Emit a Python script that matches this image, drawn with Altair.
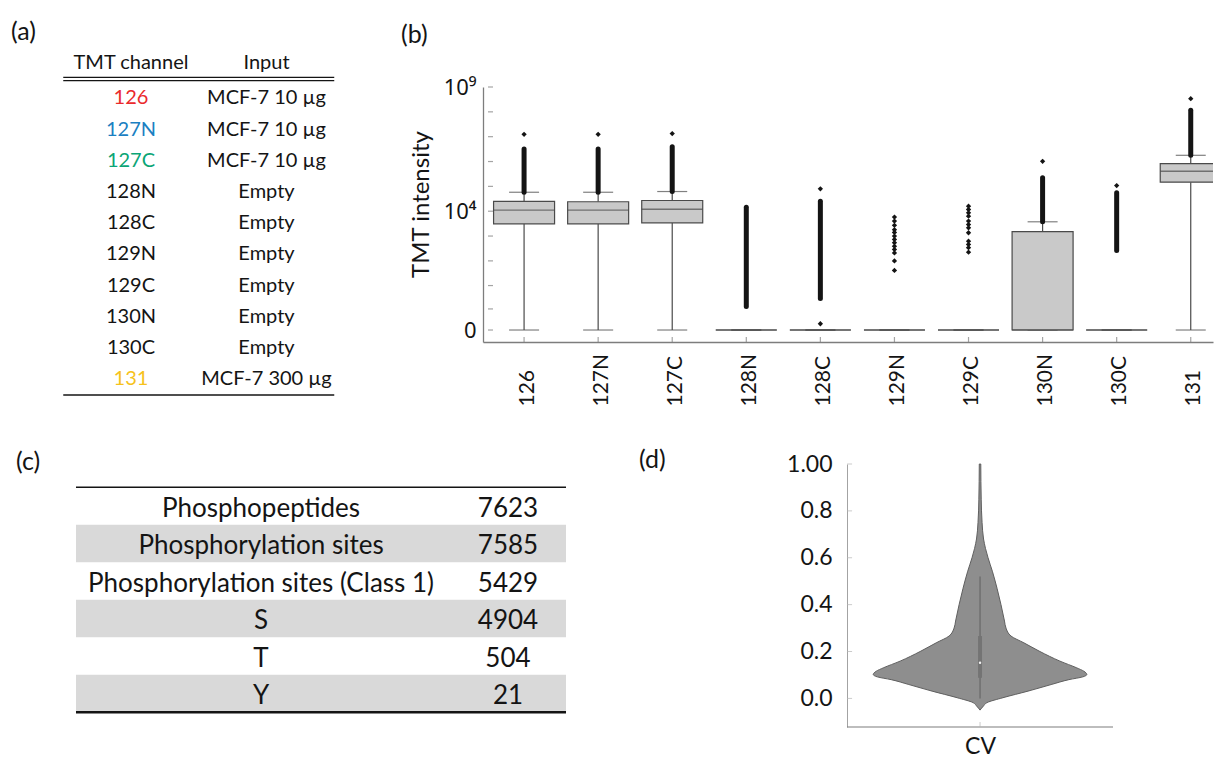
import json
import altair as alt
import pandas as pd

FONT = "Lato"
INK = "#141414"
AXIS_GRAY = "#7d7d7d"
BOX_LINE = "#4a4a4a"
BOX_FILL = "#c9c9c9"

# ---------------- (a) TMT channel table ----------------
tmt_channels = ["126", "127N", "127C", "128N", "128C", "129N", "129C", "130N", "130C", "131"]
tmt_inputs = ["MCF-7 10 µg", "MCF-7 10 µg", "MCF-7 10 µg", "Empty", "Empty", "Empty",
              "Empty", "Empty", "Empty", "MCF-7 300 µg"]
channel_colors = ["#ea2a2c", "#1b80c2", "#0ba576", INK, INK, INK, INK, INK, INK, "#f6c21c"]
a_headers = ["TMT channel", "Input"]

# ---------------- (b) TMT intensity box plot (summary) ----------------
box_q1 = [3100, 3100, 3400, 0, 0, 0, 0, 0, 0, 147000]
box_median = [11000, 11000, 12000, 0, 0, 0, 0, 0, 0, 406000]
box_q3 = [25000, 24000, 27000, 0, 0, 0, 0, 1500, 0, 827000]
whisker_low = [0, 0, 0, 0, 0, 0, 0, 0, 0, 0]
whisker_high = [58000, 58000, 62000, 0, 0, 0, 0, 3750, 0, 1780000]
dense_outlier_low = [58000, 58000, 62000, 1.3, 2.9, None, None, 3750, 260, 1780000]
dense_outlier_high = [3.2e6, 3.2e6, 3.9e6, 14500, 25000, None, None, 220000, 55000, 1.15e8]
outlier_channel = (["126", "127N", "127C", "128C", "128C"] + ["129N"] * 13 + ["129C"] * 12
                   + ["130N", "130C", "131"])
outlier_value = [1.25e7, 1.25e7, 1.33e7, 79500, 0.13,
                 5800, 4000, 2700, 1800, 1400, 1000, 730, 540, 390, 290, 210, 100, 41,
                 15900, 11700, 8600, 6300, 4000, 2900, 2150, 1360, 620, 460, 340, 225,
                 1.02e6, 108000, 3.39e8]
b_tick_values = [0, 1, 10, 1e2, 1e3, 1e4, 1e5, 1e6, 1e7, 1e8, 1e9]
b_label_values = [0, 1e4, 1e9]
b_labels = ["0", "10⁴", "10⁹"]

# ---------------- (c) identification table ----------------
c_items = ["Phosphopeptides", "Phosphorylation sites", "Phosphorylation sites (Class 1)", "S", "T", "Y"]
c_counts = [7623, 7585, 5429, 4904, 504, 21]

# ---------------- (d) CV violin (profile) ----------------
cv_grid = [-0.05, -0.033, -0.018, 0.003, 0.031, 0.06, 0.08, 0.092, 0.102, 0.116, 0.13, 0.159,
           0.20, 0.237, 0.266, 0.30, 0.33, 0.40, 0.47, 0.54, 0.60, 0.64, 0.68, 0.75, 0.85, 1.0]
cv_density = [0.0, 0.031, 0.065, 0.215, 0.449, 0.673, 0.832, 0.963, 1.0, 0.972, 0.907, 0.748,
              0.561, 0.411, 0.290, 0.243, 0.229, 0.196, 0.159, 0.117, 0.075, 0.051, 0.033,
              0.019, 0.011, 0.007]
cv_whisker = [0.0, 0.52]
cv_quartiles = [0.088, 0.266]
cv_median = 0.152
d_tick_values = [0.0, 0.2, 0.4, 0.6, 0.8, 1.0]


def panel_title(text, dx, offset=0, dy=0):
    return alt.TitleParams(text=text, anchor="start", frame="group", dx=dx, dy=dy, offset=offset,
                           fontSize=25, fontWeight="normal", color=INK, font=FONT)


# ======================= panel (a) =======================
A_X = [-0.5535, 2.524]
A_Y = [0.6314, 8.805]
a_xs = alt.Scale(domain=A_X, nice=False, zero=False)
a_ys = alt.Scale(domain=A_Y, nice=False, zero=False, reverse=True)


def ax(f):
    return alt.X(f, type="quantitative", scale=a_xs, axis=None)


def ay(f):
    return alt.Y(f, type="quantitative", scale=a_ys, axis=None)


a_cells = []
for i, (ch, inp, colr) in enumerate(zip(tmt_channels, tmt_inputs, channel_colors)):
    a_cells.append({"row": i + 1, "col": 0, "text": ch, "color": colr})
    a_cells.append({"row": i + 1, "col": 1, "text": inp, "color": INK})
a_df = pd.DataFrame(a_cells)
a_head_df = pd.DataFrame({"row": [0, 0], "col": [0, 1], "text": a_headers})
a_rule_df = pd.DataFrame({"y": [0.324, 0.429, 10.5], "x1": [-0.5] * 3, "x2": [1.5] * 3,
                          "w": [1.3, 1.3, 1.5]})

a_text = alt.Chart(a_df).mark_text(fontSize=20, baseline="middle", align="center").encode(
    x=ax("col"), y=ay("row"), text="text:N", color=alt.Color("color:N", scale=None))
a_head = alt.Chart(a_head_df).mark_text(fontSize=20, baseline="middle", align="center",
                                         dy=-4, color=INK).encode(
    x=ax("col"), y=ay("row"), text="text:N")
a_rules = alt.Chart(a_rule_df).mark_rule(color=INK).encode(
    x=ax("x1"), x2="x2:Q", y=ay("y"), strokeWidth=alt.StrokeWidth("w:Q", scale=None))
panel_a = alt.layer(a_rules, a_head, a_text).properties(
    width=417, height=255, title=panel_title("(a)", dx=-45, offset=8))

# ======================= panel (b) =======================
B_XMIN, B_XMAX = -0.487, 9.233
B_YMIN, B_YMAX = -0.336, 1e9
b_xs = alt.Scale(domain=[B_XMIN, B_XMAX], nice=False, zero=False)
b_ys = alt.Scale(type="symlog", constant=0.165, domain=[B_YMIN, B_YMAX], nice=False, zero=False)
x_label_expr = json.dumps(tmt_channels) + "[datum.value]"
y_label_expr = "datum.value == %r ? '%s' : (datum.value == %r ? '%s' : '%s')" % (
    b_label_values[0], b_labels[0], b_label_values[1], b_labels[1], b_labels[2])
b_xaxis = alt.Axis(values=list(range(len(tmt_channels))), labelExpr=x_label_expr,
                   labelAngle=270, labelAlign="left", labelBaseline="middle", labelPadding=64,
                   labelOffset=3, labelFontSize=21, labelColor=INK, ticks=False, grid=False,
                   domainColor=AXIS_GRAY, domainWidth=1.3)
b_yaxis = alt.Axis(values=b_label_values, labelExpr=y_label_expr, ticks=False, grid=False,
                   domainColor=AXIS_GRAY, domainWidth=1.3, labelFontSize=22,
                   labelFont="Noto Sans", labelColor=INK,
                   labelPadding=7, titleFontSize=24, titleFontWeight="normal", titleColor=INK,
                   titleX=-62, titleY=117, titleAngle=270, titleAlign="center",
                   titleBaseline="middle")


def bx(f):
    return alt.X(f, type="quantitative", scale=b_xs, axis=b_xaxis, title=None)


def by(f):
    return alt.Y(f, type="quantitative", scale=b_ys, axis=b_yaxis, title="TMT intensity")


idx = list(range(len(tmt_channels)))
b_df = pd.DataFrame({"idx": idx, "q1": box_q1, "median": box_median, "q3": box_q3,
                     "lo": whisker_low, "hi": whisker_high})
dense_df = pd.DataFrame({"idx": idx, "dlo": dense_outlier_low,
                         "dhi": dense_outlier_high}).dropna()
out_df = pd.DataFrame({"idx": [tmt_channels.index(c) for c in outlier_channel],
                       "v": outlier_value})
btick_df = pd.DataFrame({"t": b_tick_values})
bxtick_df = pd.DataFrame({"idx": idx})

b_wlo = alt.Chart(b_df).mark_rule(color=BOX_LINE, strokeWidth=1.2).encode(
    x=bx("idx"), y=by("lo"), y2="q1:Q")
b_whi = alt.Chart(b_df).mark_rule(color=BOX_LINE, strokeWidth=1.2).encode(
    x=bx("idx"), y=by("q3"), y2="hi:Q")
b_cap_lo = alt.Chart(b_df).mark_tick(orient="horizontal", size=30, thickness=1.2,
                                     color=BOX_LINE).encode(x=bx("idx"), y=by("lo"))
b_cap_hi = alt.Chart(b_df).mark_tick(orient="horizontal", size=30, thickness=1.2,
                                     color=BOX_LINE).encode(x=bx("idx"), y=by("hi"))
b_box = alt.Chart(b_df).mark_bar(size=61, fill=BOX_FILL, stroke=BOX_LINE, strokeWidth=1.2,
                                 clip=True).encode(x=bx("idx"), y=by("q1"), y2="q3:Q")
b_med = alt.Chart(b_df).mark_tick(orient="horizontal", size=61, thickness=1.3, color=BOX_LINE,
                                  clip=True).encode(x=bx("idx"), y=by("median"))
b_dense = alt.Chart(dense_df).mark_rule(color=INK, strokeWidth=5, strokeCap="round").encode(
    x=bx("idx"), y=by("dlo"), y2="dhi:Q")
b_out = alt.Chart(out_df).mark_point(shape="diamond", filled=True, size=28, color=INK,
                                     opacity=1).encode(x=bx("idx"), y=by("v"))
b_yticks = alt.Chart(btick_df).transform_calculate(xm=str(B_XMIN)).mark_tick(
    orient="horizontal", size=5, thickness=1.2, xOffset=2.5, color=AXIS_GRAY).encode(
    x=bx("xm"), y=by("t"))
b_xticks = alt.Chart(bxtick_df).transform_calculate(ym=str(B_YMIN)).mark_tick(
    orient="vertical", size=5, thickness=1.2, yOffset=-2.5, color=AXIS_GRAY).encode(
    x=bx("idx"), y=by("ym"))
panel_b = alt.layer(b_wlo, b_whi, b_cap_lo, b_cap_hi, b_box, b_med, b_dense, b_out,
                    b_yticks, b_xticks).properties(
    width=730, height=255, title=panel_title("(b)", dx=-82, offset=28))

# ======================= panel (c) =======================
C_X = [-0.0408, 0.8102]
C_Y = [-0.619, 6.394]
c_xs = alt.Scale(domain=C_X, nice=False, zero=False)
c_ys = alt.Scale(domain=C_Y, nice=False, zero=False, reverse=True)


def cx(f):
    return alt.X(f, type="quantitative", scale=c_xs, axis=None)


def cy(f):
    return alt.Y(f, type="quantitative", scale=c_ys, axis=None)


c_rows = list(range(1, len(c_items) + 1))
c_df = pd.DataFrame({"row": c_rows, "item": c_items, "count": [str(v) for v in c_counts]})
c_df["mid"] = c_df["row"] - 0.5
c_df["top"] = c_df["row"] - 1
c_df["x0"] = 0.0
c_df["x1"] = 1.0
c_df["xa"] = 0.3776
c_df["xb"] = 0.8816
c_band = alt.Chart(c_df).transform_filter("datum.row % 2 == 0").mark_rect(
    color="#d9d9d9").encode(x=cx("x0"), x2="x1:Q", y=cy("top"), y2="row:Q")
c_text1 = alt.Chart(c_df).mark_text(fontSize=26, baseline="middle", align="center", dy=3,
                                    color=INK).encode(x=cx("xa"), y=cy("mid"), text="item:N")
c_text2 = alt.Chart(c_df).mark_text(fontSize=26, baseline="middle", align="center", dy=3,
                                    color=INK).encode(x=cx("xb"), y=cy("mid"), text="count:N")
c_rule_df = pd.DataFrame({"y": [0, len(c_items)], "x0": [0.0, 0.0], "x1": [1.0, 1.0],
                          "w": [1.6, 2.6]})
c_rules = alt.Chart(c_rule_df).mark_rule(color=INK).encode(
    x=cx("x0"), x2="x1:Q", y=cy("y"), strokeWidth=alt.StrokeWidth("w:Q", scale=None))
panel_c = alt.layer(c_band, c_rules, c_text1, c_text2).properties(
    width=417, height=263, title=panel_title("(c)", dx=-40, offset=0, dy=11))

# ======================= panel (d) =======================
D_X = [-4.654, 1.245]
D_Y = [-0.122, 1.0]
D_HALF = 1.245
d_xs = alt.Scale(domain=D_X, nice=False, zero=False)
d_ys = alt.Scale(domain=D_Y, nice=False, zero=False)
d_xaxis = alt.Axis(values=[0], labelExpr="'CV'", ticks=False, grid=False, domain=False,
                   labelFontSize=23, labelColor=INK, labelPadding=8)
d_yaxis = alt.Axis(values=d_tick_values,
                   labelExpr="datum.value == 1 ? '1.00' : format(datum.value, '.1f')",
                   ticks=False, grid=False, domainColor="#a3a3a3", domainWidth=1.0,
                   labelFontSize=23, labelColor=INK, labelPadding=15, offset=-364)


def dx_(f):
    return alt.X(f, type="quantitative", scale=d_xs, axis=d_xaxis, title=None)


def dy_(f):
    return alt.Y(f, type="quantitative", scale=d_ys, axis=d_yaxis, title=None)


d_df = pd.DataFrame({"cv": cv_grid, "dens": cv_density})
d_violin = alt.Chart(d_df).transform_calculate(neg="-datum.dens").mark_area(
    orient="horizontal", interpolate="monotone", fill="#8e8e8e", stroke="#5f5f5f",
    strokeWidth=1).encode(y=dy_("cv"), x=dx_("neg"), x2="dens:Q")
d_stat = pd.DataFrame({"c": [0.0], "wlo": [cv_whisker[0]], "whi": [cv_whisker[1]],
                       "qlo": [cv_quartiles[0]], "qhi": [cv_quartiles[1]], "med": [cv_median]})
d_whisk = alt.Chart(d_stat).mark_rule(color="#6a6a6a", strokeWidth=1.3).encode(
    x=dx_("c"), y=dy_("wlo"), y2="whi:Q")
d_box = alt.Chart(d_stat).mark_rule(color="#747474", strokeWidth=4).encode(
    x=dx_("c"), y=dy_("qlo"), y2="qhi:Q")
d_med = alt.Chart(d_stat).mark_point(filled=True, shape="circle", size=6, color="#f2f2f2",
                                     opacity=1).encode(x=dx_("c"), y=dy_("med"))
d_xline = alt.Chart(d_stat).transform_calculate(
    xl=str(-D_HALF), xr=str(D_HALF), ym=str(D_Y[0])).mark_rule(
    color=AXIS_GRAY, strokeWidth=1.2).encode(x=dx_("xl"), x2="xr:Q", y=dy_("ym"))
d_ytick_df = pd.DataFrame({"t": d_tick_values})
d_yticks = alt.Chart(d_ytick_df).transform_calculate(xm=str(-D_HALF)).mark_tick(
    orient="horizontal", size=5, thickness=1, xOffset=2.5, color="#b5b5b5").encode(
    x=dx_("xm"), y=dy_("t"))
d_xticks = alt.Chart(d_stat).transform_calculate(ym=str(D_Y[0])).mark_tick(
    orient="vertical", size=5, thickness=1, yOffset=-2.5, color="#b5b5b5").encode(
    x=dx_("c"), y=dy_("ym"))
panel_d = alt.layer(d_violin, d_whisk, d_box, d_med, d_xline, d_yticks, d_xticks).properties(
    width=630, height=263, title=panel_title("(d)", dx=156, offset=0, dy=20))

chart = alt.concat(panel_a, panel_b, panel_c, panel_d, columns=2,
                   spacing={"row": 122, "column": 10}, bounds="flush").properties(
    padding={"left": 2, "top": 11, "right": 0, "bottom": 0}
).configure(font=FONT).configure_view(stroke="transparent")

chart.save("out.html", embed_options={"renderer": "svg", "actions": False})
